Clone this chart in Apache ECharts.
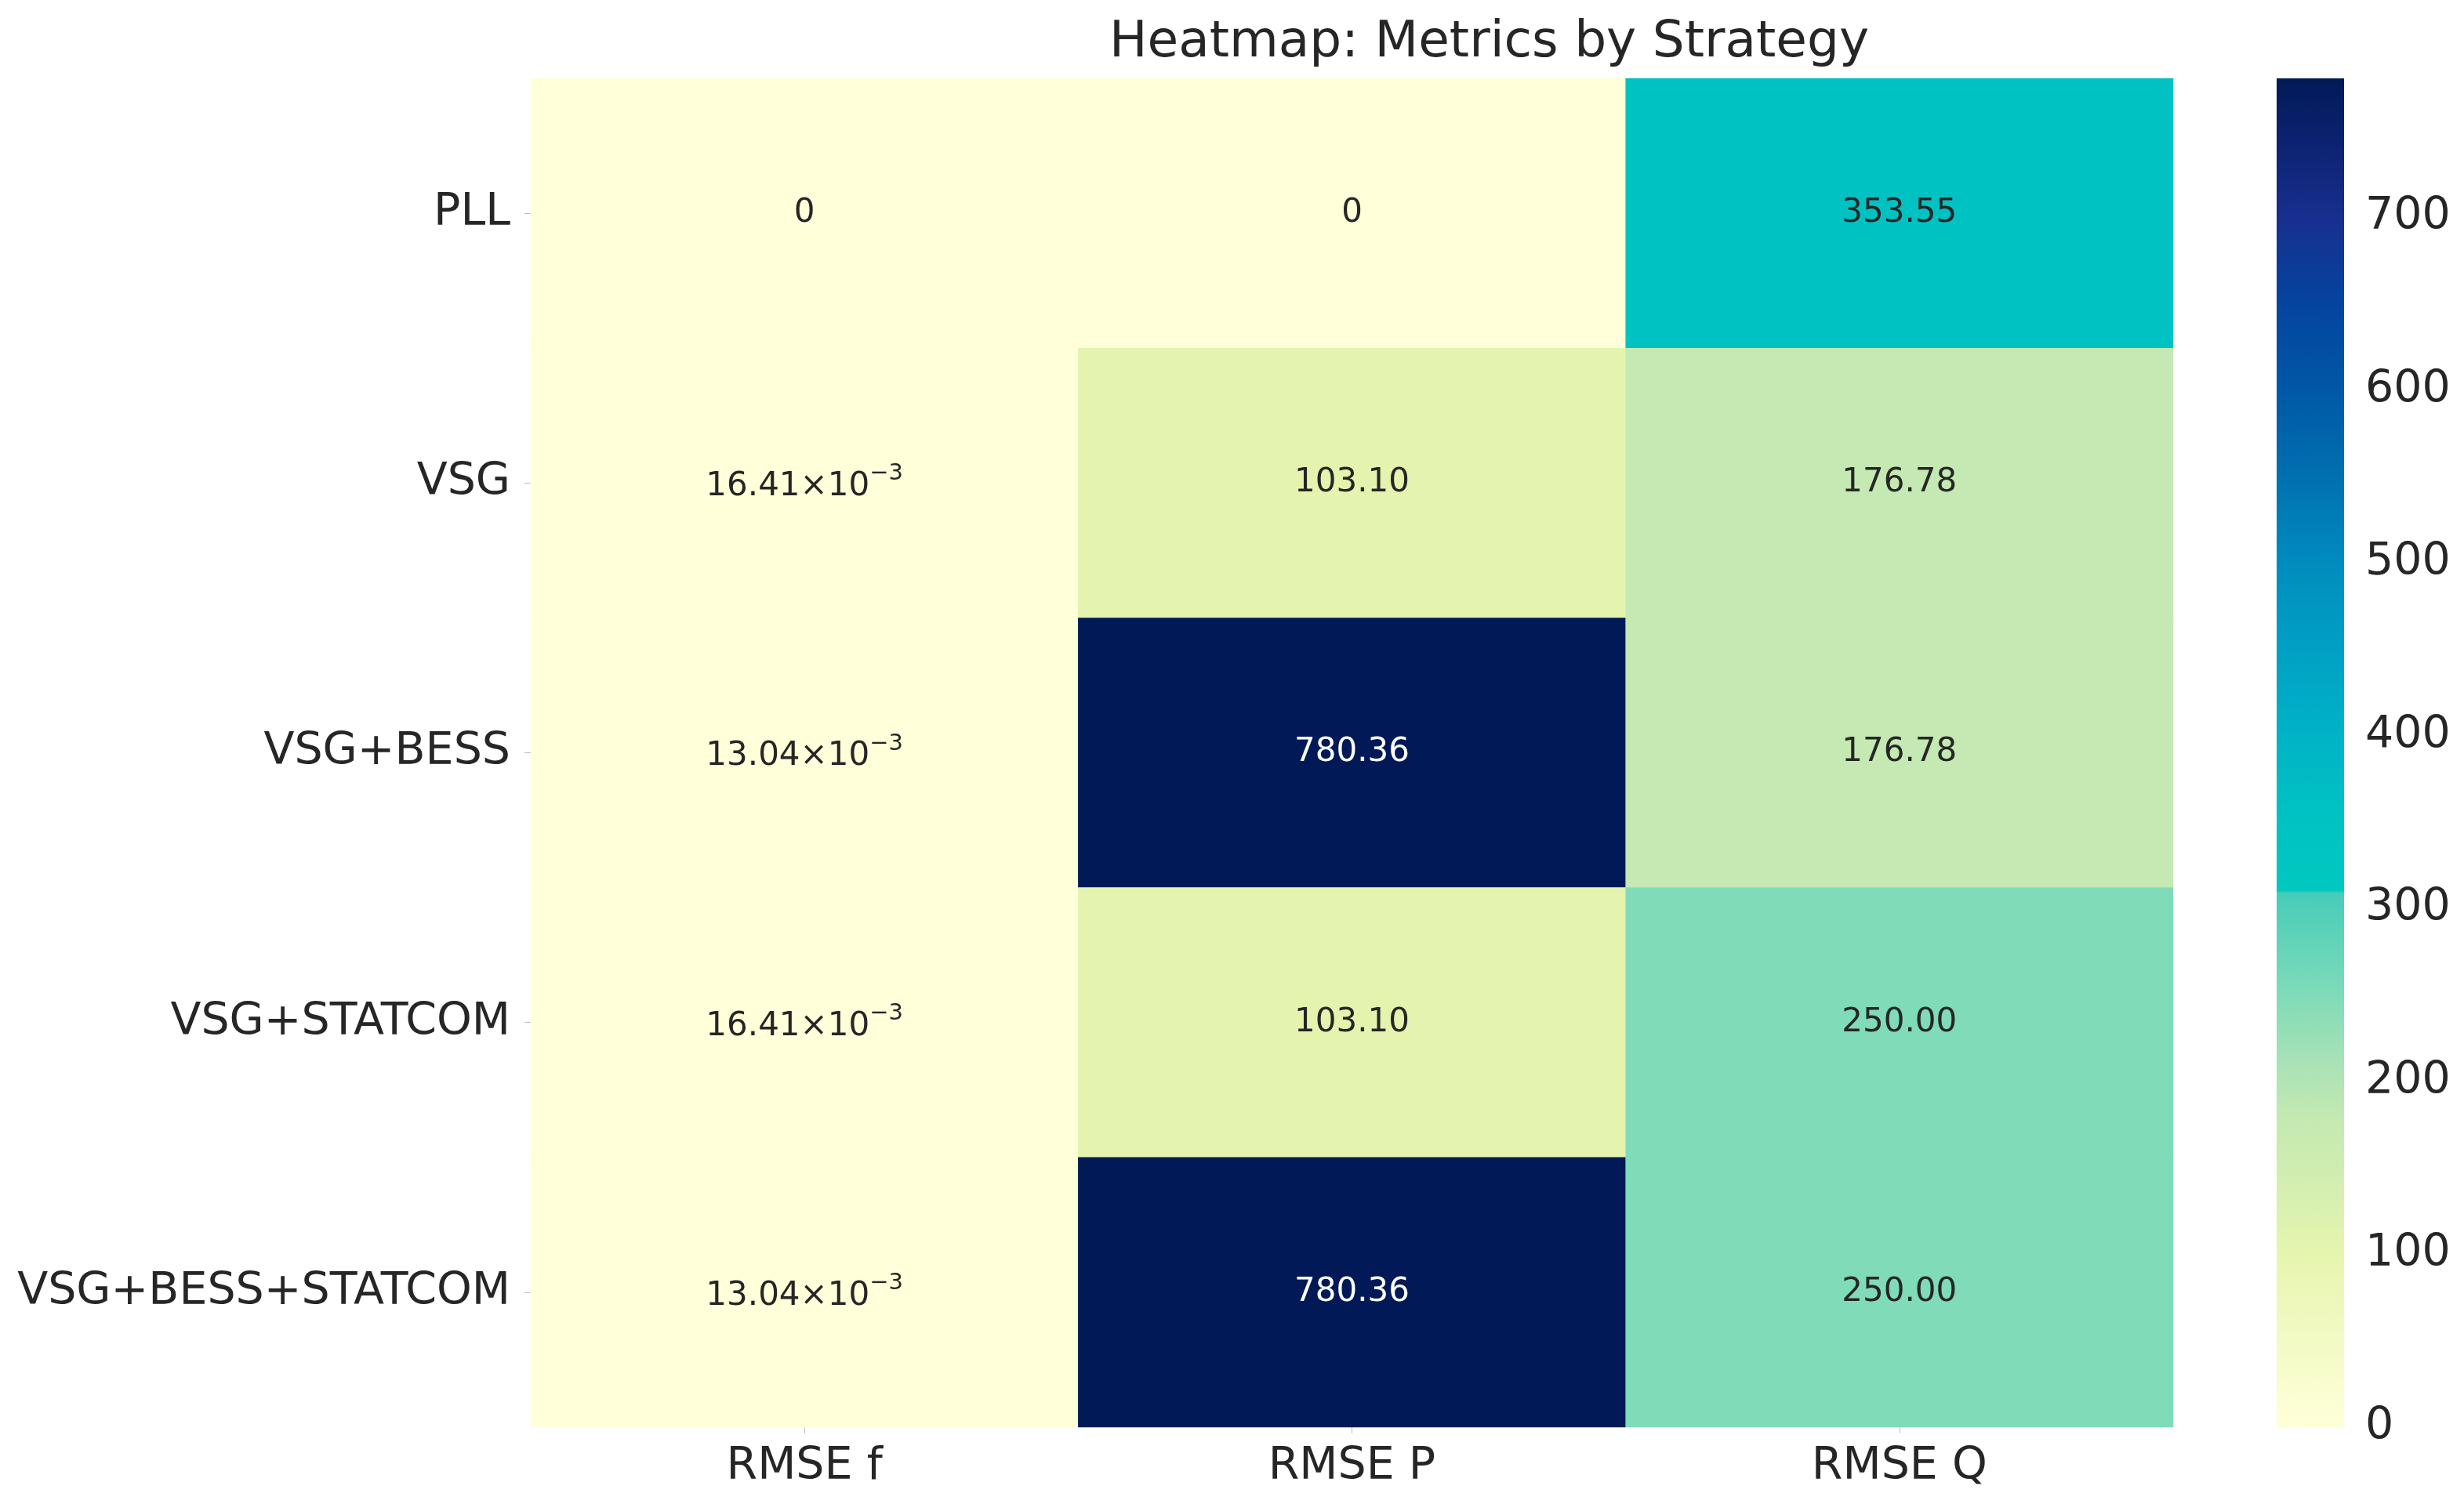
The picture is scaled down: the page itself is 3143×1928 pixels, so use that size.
<!DOCTYPE html>
<html>
<head>
<meta charset="utf-8">
<script src="https://cdn.jsdelivr.net/npm/echarts@6/dist/echarts.min.js"></script>
<style>
  html, body { margin: 0; padding: 0; background: #ffffff; }
  #chart { width: 3143px; height: 1928px; }
</style>
</head>
<body>
<div id="chart"></div>
<script>
// ---- data ----
const metrics = ['RMSE f', 'RMSE P', 'RMSE Q'];
const strategies = ['PLL', 'VSG', 'VSG+BESS', 'VSG+STATCOM', 'VSG+BESS+STATCOM'];
const rmseF = [0, 0.01641, 0.01304, 0.01641, 0.01304];
const rmseP = [0, 103.10, 780.36, 103.10, 780.36];
const rmseQ = [353.55, 176.78, 176.78, 250.00, 250.00];
const colorbarMin = 0;
const colorbarStep = 100;

// ---- colour scale (style) ----
const colorStops = [
  [0, '#ffffd9'], [50, '#f3fac5'], [100, '#e6f5ae'], [150, '#cfedb1'], [180, '#c3e9b2'],
  [210, '#a9e2b6'], [250, '#7fdbb8'], [309, '#46ccb9'], [310.5, '#00c8c0'],
  [353.55, '#00c2c2'], [400, '#00b3c6'], [450, '#00a0c4'], [500, '#008cbe'],
  [550, '#0070b0'], [600, '#0058a6'], [650, '#0444a0'], [700, '#182f8e'],
  [740, '#0d2373'], [780.36, '#011a57']
];

const columns = [rmseF, rmseP, rmseQ];
const allValues = [].concat(rmseF, rmseP, rmseQ);
const vMax = Math.max.apply(null, allValues);

function hexToRgb(h) { return [parseInt(h.slice(1,3),16), parseInt(h.slice(3,5),16), parseInt(h.slice(5,7),16)]; }
function colorAt(v) {
  for (let i = 0; i < colorStops.length - 1; i++) {
    const a = colorStops[i], b = colorStops[i+1];
    if (v >= a[0] && v <= b[0]) {
      const t = (v - a[0]) / (b[0] - a[0]);
      const ca = hexToRgb(a[1]), cb = hexToRgb(b[1]);
      const c = ca.map((x, k) => Math.round(x + (cb[k] - x) * t));
      return 'rgb(' + c.join(',') + ')';
    }
  }
  return colorStops[colorStops.length - 1][1];
}
const nSteps = 400;
const mapColors = [];
for (let i = 0; i <= nSteps; i++) mapColors.push(colorAt(colorbarMin + (vMax - colorbarMin) * i / nSteps));
const gradientStops = colorStops.map(s => ({ offset: Math.min(1, s[0] / vMax), color: s[1] }));

const heatData = [];
columns.forEach((col, xi) => {
  col.forEach((v, yi) => {
    heatData.push({ value: [xi, yi, v], label: { color: v > 600 ? '#ffffff' : '#262626' } });
  });
});

function fmt(p) {
  const v = p.value[2];
  if (v === 0) return '0';
  if (v < 1) {
    return '{m|' + (v * 1000).toFixed(2) + '×10}{e|−3}';
  }
  return v.toFixed(2);
}

const FONT = 'DejaVu Sans';
const TXT = '#262626';
const AX_FS = 57;

const chart = echarts.init(document.getElementById('chart'), null, { renderer: 'canvas' });
chart.setOption({
  backgroundColor: '#ffffff',
  animation: false,
  textStyle: { fontFamily: FONT },
  title: {
    text: 'Heatmap: Metrics by Strategy',
    left: 1410, top: 18,
    textStyle: { fontFamily: FONT, fontSize: 64.5, fontWeight: 'normal', color: TXT }
  },
  grid: [
    { left: 677, top: 100, width: 2095, height: 1721 },
    { left: 2904, top: 100, width: 86, height: 1721 }
  ],
  xAxis: [
    {
      gridIndex: 0, type: 'category', data: metrics, position: 'bottom',
      axisLine: { show: false },
      axisTick: { show: true, alignWithLabel: true, length: 8, lineStyle: { color: '#bbbbbb', width: 1 } },
      axisLabel: { fontFamily: FONT, fontSize: AX_FS, color: TXT, margin: 23 },
      splitLine: { show: false }, splitArea: { show: false }
    },
    { gridIndex: 1, type: 'category', data: [''], show: false }
  ],
  yAxis: [
    {
      gridIndex: 0, type: 'category', data: strategies, inverse: true,
      axisLine: { show: false },
      axisTick: { show: true, alignWithLabel: true, length: 8, lineStyle: { color: '#bbbbbb', width: 1 } },
      axisLabel: { fontFamily: FONT, fontSize: AX_FS, color: TXT, margin: 26 },
      splitLine: { show: false }, splitArea: { show: false }
    },
    {
      gridIndex: 1, type: 'value', position: 'right', min: colorbarMin, max: vMax, interval: colorbarStep,
      axisLine: { show: false },
      axisTick: { show: false },
      splitLine: { show: false },
      axisLabel: { fontFamily: FONT, fontSize: AX_FS, color: TXT, margin: 27, showMaxLabel: false }
    }
  ],
  visualMap: {
    show: false, type: 'continuous', seriesIndex: 0, dimension: 2,
    min: colorbarMin, max: vMax,
    inRange: { color: mapColors }
  },
  series: [
    {
      type: 'heatmap', xAxisIndex: 0, yAxisIndex: 0, data: heatData,
      itemStyle: { borderWidth: 0 },
      label: {
        show: true, fontFamily: FONT, fontSize: 42, formatter: fmt,
        rich: {
          m: { fontFamily: FONT, fontSize: 42, color: TXT, lineHeight: 52, verticalAlign: 'bottom' },
          e: { fontFamily: FONT, fontSize: 29, color: TXT, lineHeight: 52, verticalAlign: 'top', padding: [0, 0, 0, 0] }
        }
      },
      emphasis: { disabled: true }
    },
    {
      type: 'bar', xAxisIndex: 1, yAxisIndex: 1, data: [vMax], barWidth: '100%', silent: true,
      itemStyle: {
        color: { type: 'linear', x: 0, y: 1, x2: 0, y2: 0, colorStops: gradientStops }
      }
    }
  ]
});
</script>
</body>
</html>
